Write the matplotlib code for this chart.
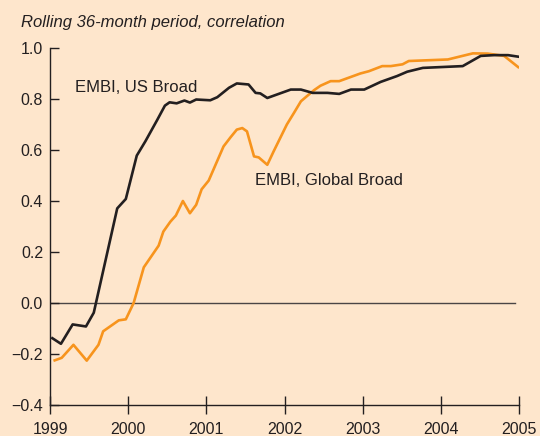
import numpy as np
import matplotlib
matplotlib.use("Agg")
import matplotlib.pyplot as plt

plt.rcParams['font.family'] = ['Liberation Sans', 'DejaVu Sans']

# EMBI, US Broad (decimal year, correlation)
us_x = [1999.03, 1999.14, 1999.29, 1999.46, 1999.56, 1999.86, 1999.97, 2000.11,
        2000.22, 2000.37, 2000.47, 2000.53, 2000.62, 2000.72, 2000.79, 2000.87,
        2001.05, 2001.14, 2001.29, 2001.39, 2001.54, 2001.63, 2001.69, 2001.78,
        2002.08, 2002.21, 2002.36, 2002.55, 2002.70, 2002.85, 2003.02, 2003.23,
        2003.44, 2003.57, 2003.77, 2004.28, 2004.51, 2004.68, 2004.86, 2004.99]
us_y = [-0.138, -0.160, -0.084, -0.092, -0.038, 0.371, 0.408, 0.578,
        0.634, 0.717, 0.774, 0.787, 0.783, 0.794, 0.786, 0.798,
        0.795, 0.807, 0.844, 0.861, 0.857, 0.824, 0.822, 0.804,
        0.837, 0.837, 0.824, 0.824, 0.820, 0.837, 0.837, 0.867,
        0.890, 0.907, 0.922, 0.929, 0.969, 0.972, 0.972, 0.966]

# EMBI, Global Broad
gl_x = [1999.06, 1999.15, 1999.30, 1999.47, 1999.62, 1999.68, 1999.88, 1999.97,
        2000.07, 2000.20, 2000.39, 2000.45, 2000.54, 2000.61, 2000.70, 2000.79,
        2000.87, 2000.94, 2001.03, 2001.22, 2001.31, 2001.39, 2001.46, 2001.52,
        2001.61, 2001.67, 2001.78, 2001.86, 2002.03, 2002.12, 2002.21, 2002.29,
        2002.38, 2002.46, 2002.59, 2002.70, 2002.97, 2003.08, 2003.25, 2003.36,
        2003.51, 2003.59, 2004.09, 2004.41, 2004.60, 2004.81, 2004.99]
gl_y = [-0.225, -0.215, -0.164, -0.226, -0.164, -0.111, -0.068, -0.064,
        0.0, 0.14, 0.225, 0.28, 0.319, 0.343, 0.40, 0.352,
        0.385, 0.446, 0.48, 0.614, 0.650, 0.680, 0.686, 0.673,
        0.575, 0.571, 0.542, 0.594, 0.70, 0.745, 0.791, 0.812,
        0.835, 0.852, 0.870, 0.870, 0.900, 0.909, 0.929, 0.929,
        0.936, 0.949, 0.955, 0.979, 0.978, 0.969, 0.925]

years = [1999, 2000, 2001, 2002, 2003, 2004, 2005]
yticks = [-0.4, -0.2, 0.0, 0.2, 0.4, 0.6, 0.8, 1.0]

bg = '#FEE6CC'
ink = '#231F20'
orange = '#F7941D'

fig = plt.figure(figsize=(5.4, 4.36), dpi=100, facecolor=bg)
# axes box: x 50..519 px, y 48..405 px
ax = fig.add_axes([50 / 540, 1 - 405 / 436, 469 / 540, 357 / 436], facecolor=bg)

ax.axhline(0, xmin=0, xmax=0.992, color='#4a4545', lw=1.0, zorder=1)
ax.plot(gl_x, gl_y, color=orange, lw=1.9, zorder=2)
ax.plot(us_x, us_y, color=ink, lw=1.9, zorder=3)

ax.set_xlim(1999, 2005)
ax.set_ylim(-0.4, 1.0)
for s in ['top', 'right']:
    ax.spines[s].set_visible(False)
for s in ['left', 'bottom']:
    ax.spines[s].set_color(ink)
    ax.spines[s].set_linewidth(1.0)

ax.set_xticks(years)
ax.set_xticklabels([str(y) for y in years])
ax.set_yticks(yticks)
ax.set_yticklabels([f'{v:.1f}'.replace('-', '\u2212') for v in yticks])
ax.tick_params(axis='x', direction='inout', length=13, width=1.0, color=ink,
               labelsize=11.5, labelcolor=ink, pad=6)
ax.tick_params(axis='y', direction='in', length=6.5, width=1.0, color=ink,
               labelsize=11.5, labelcolor=ink, pad=5)

ax.text(1999.32, 0.846, 'EMBI, US Broad', fontsize=12, color=ink, va='center')
ax.text(2001.62, 0.479, 'EMBI, Global Broad', fontsize=12, color=ink, va='center')

fig.text(21 / 540, 1 - 22 / 436, 'Rolling 36-month period, correlation',
         fontsize=12, style='italic', color=ink, va='center')

fig.savefig('out.png', dpi=100, facecolor=bg)
